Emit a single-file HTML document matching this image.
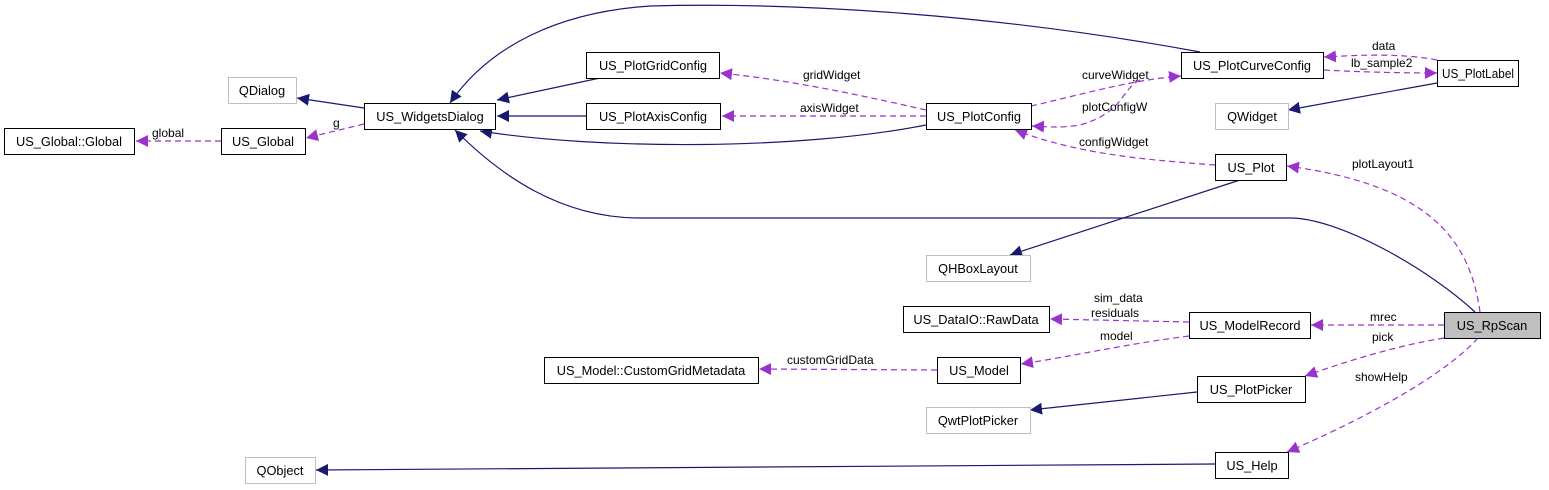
<!DOCTYPE html>
<html><head><style>
body{margin:0;background:#fff}
svg{display:block}
text{font-family:"Liberation Sans",sans-serif;font-size:12px;fill:#000}
.n{fill:#fff;stroke:#000;stroke-width:1}
.g{fill:#fff;stroke:#bfbfbf;stroke-width:1}
.s{fill:none;stroke:#191970;stroke-width:1.2}
.d{fill:none;stroke:#9a32cd;stroke-width:1.2;stroke-dasharray:6,4}
.c{text-anchor:middle;font-size:12.8px}
</style></head><body>
<svg width="1549" height="490" viewBox="0 0 1549 490">
<defs>
<marker id="ab" viewBox="0 0 10 10" refX="10" refY="5" markerWidth="12" markerHeight="12" markerUnits="userSpaceOnUse" orient="auto"><path d="M0,0L10,5L0,10z" fill="#191970"/></marker>
<marker id="ap" viewBox="0 0 10 10" refX="10" refY="5" markerWidth="12" markerHeight="12" markerUnits="userSpaceOnUse" orient="auto"><path d="M0,0L10,5L0,10z" fill="#9a32cd"/></marker>
</defs>
<path class="s" marker-end="url(#ab)" d="M364,108 L297,98"/>
<path class="s" marker-end="url(#ab)" d="M600,78 L497,100"/>
<path class="s" marker-end="url(#ab)" d="M586,116 L497,116"/>
<path class="s" marker-end="url(#ab)" d="M926,125 C800,150 600,150 480,131"/>
<path class="s" marker-end="url(#ab)" d="M1200,52 C1000,15 800,2 650,6 C560,12 490,45 450,103"/>
<path class="s" marker-end="url(#ab)" d="M1475,312 C1430,270 1340,218 1290,218 L640,218 C560,218 500,175 455,130"/>
<path class="s" marker-end="url(#ab)" d="M1437,83 L1288,110"/>
<path class="s" marker-end="url(#ab)" d="M1240,180 L1010,255"/>
<path class="s" marker-end="url(#ab)" d="M1197,392 L1030,410"/>
<path class="s" marker-end="url(#ab)" d="M1215,464 L316,470"/>
<path class="d" marker-end="url(#ap)" d="M221,141 L136,141"/>
<path class="d" marker-end="url(#ap)" d="M364,124 L306,138"/>
<path class="d" marker-end="url(#ap)" d="M926,110 C860,95 790,80 720,73"/>
<path class="d" marker-end="url(#ap)" d="M926,116 L722,116"/>
<path class="d" marker-end="url(#ap)" d="M1031,106 C1080,95 1130,80 1181,76"/>
<path class="d" marker-end="url(#ap)" d="M1140,80 C1120,90 1125,112 1080,125 C1060,128 1050,127 1032,126"/>
<path class="d" marker-end="url(#ap)" d="M1437,60 C1400,53 1360,55 1324,57"/>
<path class="d" marker-end="url(#ap)" d="M1324,70 C1360,72 1400,73 1437,73"/>
<path class="d" marker-end="url(#ap)" d="M1215,165 C1150,160 1080,155 1015,130"/>
<path class="d" marker-end="url(#ap)" d="M1480,312 C1470,240 1430,185 1287,166"/>
<path class="d" marker-end="url(#ap)" d="M1444,325 L1311,325"/>
<path class="d" marker-end="url(#ap)" d="M1189,322 L1050,319"/>
<path class="d" marker-end="url(#ap)" d="M1189,336 C1120,345 1080,355 1021,364"/>
<path class="d" marker-end="url(#ap)" d="M937,370 L759,369"/>
<path class="d" marker-end="url(#ap)" d="M1444,338 C1400,345 1350,360 1305,376"/>
<path class="d" marker-end="url(#ap)" d="M1478,338 C1440,380 1350,425 1287,452"/>
<text x="152" y="137">global</text>
<text x="333" y="127">g</text>
<text x="803" y="79">gridWidget</text>
<text x="800" y="112">axisWidget</text>
<text x="1082" y="79">curveWidget</text>
<text x="1082" y="111">plotConfigW</text>
<text x="1079" y="146">configWidget</text>
<text x="1372" y="50">data</text>
<text x="1351" y="67">lb_sample2</text>
<text x="1352" y="168">plotLayout1</text>
<text x="1094" y="302">sim_data</text>
<text x="1091" y="317">residuals</text>
<text x="1370" y="321">mrec</text>
<text x="1100" y="340">model</text>
<text x="1372" y="341">pick</text>
<text x="787" y="364">customGridData</text>
<text x="1355" y="381">showHelp</text>
<rect class="g" x="228.5" y="77.5" width="68" height="26"/><text class="c" x="262" y="95">QDialog</text>
<rect class="n" x="364.5" y="103.5" width="131" height="26"/><text class="c" x="430" y="121">US_WidgetsDialog</text>
<rect class="n" x="4.5" y="128.5" width="130" height="26"/><text class="c" x="69" y="146">US_Global::Global</text>
<rect class="n" x="221.5" y="128.5" width="84" height="26"/><text class="c" x="263" y="146">US_Global</text>
<rect class="n" x="586.5" y="52.5" width="133" height="26"/><text class="c" x="653" y="70">US_PlotGridConfig</text>
<rect class="n" x="586.5" y="103.5" width="134" height="26"/><text class="c" x="653" y="121">US_PlotAxisConfig</text>
<rect class="n" x="926.5" y="103.5" width="105" height="26"/><text class="c" x="979" y="121">US_PlotConfig</text>
<rect class="n" x="1181.5" y="52.5" width="142" height="26"/><text class="c" x="1252" y="70">US_PlotCurveConfig</text>
<rect class="n" x="1437.5" y="60.5" width="81" height="26"/><text class="c" x="1478" y="78" textLength="72" lengthAdjust="spacingAndGlyphs">US_PlotLabel</text>
<rect class="g" x="1215.5" y="103.5" width="73" height="26"/><text class="c" x="1252" y="121">QWidget</text>
<rect class="n" x="1215.5" y="154.5" width="71" height="26"/><text class="c" x="1251" y="172">US_Plot</text>
<rect class="g" x="926.5" y="255.5" width="104" height="26"/><text class="c" x="978" y="273">QHBoxLayout</text>
<rect class="n" x="903.5" y="306.5" width="146" height="26"/><text class="c" x="976" y="324">US_DataIO::RawData</text>
<rect class="n" x="1189.5" y="312.5" width="121" height="26"/><text class="c" x="1250" y="330">US_ModelRecord</text>
<rect x="1444.5" y="312.5" width="96" height="26" fill="#bfbfbf" stroke="#000"/><text class="c" x="1492" y="330">US_RpScan</text>
<rect class="n" x="544.5" y="357.5" width="214" height="26"/><text class="c" x="651" y="375">US_Model::CustomGridMetadata</text>
<rect class="n" x="937.5" y="357.5" width="83" height="26"/><text class="c" x="979" y="375">US_Model</text>
<rect class="n" x="1197.5" y="376.5" width="108" height="26"/><text class="c" x="1251" y="394">US_PlotPicker</text>
<rect class="g" x="926.5" y="407.5" width="104" height="26"/><text class="c" x="978" y="425">QwtPlotPicker</text>
<rect class="g" x="245.5" y="457.5" width="70" height="26"/><text class="c" x="280" y="475">QObject</text>
<rect class="n" x="1215.5" y="452.5" width="73" height="26"/><text class="c" x="1252" y="470">US_Help</text>
</svg>
</body></html>
